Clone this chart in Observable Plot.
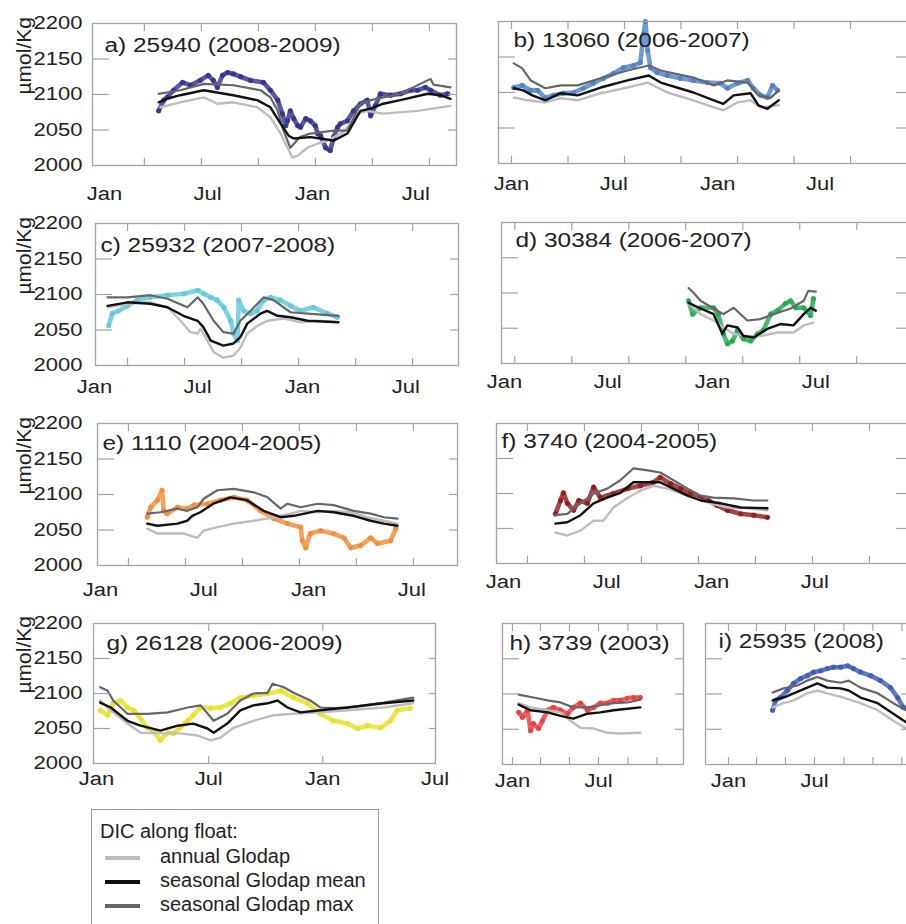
<!DOCTYPE html>
<html><head><meta charset="utf-8">
<script src="https://cdn.jsdelivr.net/npm/d3@7"></script>
<script src="https://cdn.jsdelivr.net/npm/@observablehq/plot@0.6"></script>
<style>
body{margin:0;background:#fff;}
#fig{position:relative;width:906px;height:924px;overflow:hidden;background:#fff;font-family:"Liberation Sans",Arial,sans-serif;color:#222;}
.panel{position:absolute;}
.panel svg{max-width:none;}
#legend{position:absolute;left:91px;top:809px;width:288px;height:140px;border:1.5px solid #9a9a9a;box-sizing:border-box;}
.lg{position:absolute;font-size:20px;line-height:20px;white-space:nowrap;color:#222;}
.sw{position:absolute;left:105px;width:35px;height:3.5px;}
</style></head><body><div id="fig"></div>
<script>
// ---------- data: [day since 1 Jan of first year, DIC µmol/kg] ----------
const a_float=[[95,2077],[104,2092],[110,2096],[121,2106],[137,2117],[151,2113],[168,2120],[182,2127],[191,2120],[198,2110],[207,2127],[216,2131],[226,2129],[239,2125],[256,2120],[279,2117],[291,2106],[304,2092],[312,2073],[318,2056],[321,2063],[326,2077],[332,2066],[339,2056],[344,2054],[353,2066],[361,2063],[370,2056],[374,2045],[379,2042],[388,2025],[396,2021],[402,2040],[409,2054],[414,2059],[426,2063],[437,2077],[449,2087],[461,2092],[467,2070],[475,2084],[484,2101],[502,2099],[519,2101],[537,2106],[549,2106],[563,2110],[572,2106],[589,2099],[602,2101]];
const a_annual=[[98,2082],[133,2089],[174,2096],[198,2087],[226,2089],[268,2082],[291,2068],[309,2045],[321,2025],[330,2011],[339,2014],[356,2025],[374,2031],[391,2035],[419,2047],[444,2073],[461,2077],[489,2073],[549,2077],[607,2084]];
const a_mean=[[95,2089],[110,2094],[133,2099],[174,2106],[226,2099],[268,2092],[291,2082],[309,2059],[323,2042],[332,2038],[361,2040],[379,2038],[402,2035],[426,2045],[449,2077],[467,2080],[489,2087],[519,2092],[567,2101],[589,2099],[607,2094]];
const a_max=[[95,2101],[133,2106],[174,2115],[226,2113],[274,2106],[291,2096],[304,2077],[314,2049],[326,2025],[343,2040],[361,2045],[402,2049],[426,2049],[449,2087],[467,2092],[519,2101],[572,2122],[577,2114],[607,2110]];

const b_float=[[4,2107],[19,2110],[34,2103],[46,2103],[60,2092],[74,2096],[92,2099],[110,2100],[127,2106],[145,2113],[163,2120],[181,2127],[198,2135],[216,2138],[228,2142],[234,2183],[237,2200],[241,2159],[246,2135],[258,2128],[276,2124],[299,2120],[322,2117],[347,2114],[370,2113],[382,2106],[400,2113],[418,2117],[428,2106],[441,2096],[453,2093],[462,2110],[471,2103]];
const b_annual=[[4,2093],[28,2089],[60,2086],[87,2092],[117,2089],[158,2099],[205,2107],[241,2114],[276,2100],[322,2089],[358,2079],[375,2075],[400,2086],[423,2089],[441,2079],[473,2082]];
const b_mean=[[4,2106],[21,2103],[37,2096],[60,2089],[87,2099],[117,2096],[158,2107],[205,2117],[243,2124],[264,2114],[322,2100],[358,2089],[375,2084],[393,2096],[423,2099],[437,2082],[453,2077],[473,2089]];
const b_max=[[4,2141],[19,2134],[34,2117],[60,2106],[87,2110],[117,2110],[158,2120],[205,2131],[243,2138],[264,2131],[322,2121],[358,2110],[382,2117],[418,2114],[437,2096],[458,2092],[473,2103]];

const c_float=[[25,2056],[31,2073],[42,2077],[58,2084],[75,2092],[98,2096],[128,2099],[157,2101],[181,2106],[192,2101],[204,2096],[215,2092],[227,2082],[239,2063],[244,2045],[251,2035],[253,2092],[262,2077],[274,2073],[285,2077],[297,2092],[309,2096],[326,2092],[344,2084],[361,2077],[384,2082],[409,2073],[426,2068]];
const c_annual=[[23,2082],[58,2087],[98,2089],[128,2082],[151,2063],[168,2047],[181,2045],[186,2052],[198,2035],[209,2019],[226,2011],[244,2014],[256,2025],[268,2045],[286,2056],[303,2063],[332,2066],[361,2061],[391,2063],[428,2061]];
const c_mean=[[23,2084],[58,2089],[98,2087],[128,2082],[156,2070],[181,2063],[191,2054],[204,2035],[226,2028],[244,2031],[256,2040],[268,2059],[291,2073],[303,2077],[321,2070],[344,2068],[374,2063],[428,2061]];
const c_max=[[23,2096],[58,2096],[98,2099],[128,2094],[163,2082],[181,2096],[191,2087],[209,2063],[226,2047],[244,2045],[256,2063],[274,2077],[297,2096],[314,2092],[344,2075],[374,2073],[428,2070]];

const d_float=[[323,2089],[330,2070],[344,2079],[367,2079],[375,2070],[384,2042],[391,2028],[400,2032],[409,2047],[419,2035],[432,2032],[444,2042],[454,2047],[467,2070],[479,2075],[493,2085],[502,2089],[511,2079],[525,2079],[537,2068],[542,2092]];
const d_annual=[[323,2085],[344,2070],[367,2061],[384,2051],[402,2042],[426,2039],[449,2039],[479,2044],[507,2044],[525,2054],[542,2058]];
const d_mean=[[323,2086],[344,2078],[367,2070],[382,2042],[391,2054],[409,2051],[419,2039],[437,2037],[461,2049],[484,2056],[507,2054],[525,2070],[537,2079],[546,2075]];
const d_max=[[323,2107],[332,2100],[344,2089],[367,2078],[384,2070],[402,2079],[426,2061],[449,2063],[472,2070],[502,2078],[525,2089],[533,2103],[546,2102]];

const e_float=[[82,2068],[88,2082],[100,2092],[108,2106],[111,2077],[117,2073],[135,2082],[152,2080],[164,2085],[188,2087],[211,2092],[234,2096],[257,2092],[281,2077],[304,2066],[328,2059],[351,2054],[354,2035],[360,2025],[368,2045],[386,2049],[409,2045],[427,2039],[439,2025],[456,2028],[474,2039],[486,2031],[509,2035],[518,2052]];
const e_annual=[[82,2052],[100,2045],[146,2045],[170,2039],[181,2049],[205,2054],[234,2059],[269,2063],[304,2068],[333,2073],[351,2077],[381,2075],[409,2077],[439,2075],[468,2068],[497,2063],[521,2059]];
const e_mean=[[82,2059],[100,2056],[135,2059],[152,2063],[161,2070],[175,2075],[198,2087],[228,2096],[257,2092],[286,2077],[316,2068],[339,2070],[381,2077],[409,2075],[444,2070],[474,2063],[497,2059],[521,2056]];
const e_max=[[82,2073],[105,2075],[135,2080],[152,2077],[170,2082],[181,2094],[205,2106],[234,2108],[269,2103],[293,2096],[316,2080],[328,2087],[351,2082],[381,2087],[409,2085],[444,2077],[474,2073],[497,2068],[521,2066]];

const f_float=[[91,2071],[100,2090],[105,2101],[112,2086],[123,2076],[132,2090],[147,2086],[158,2109],[170,2094],[193,2100],[218,2107],[240,2111],[263,2116],[275,2123],[293,2114],[311,2107],[328,2100],[346,2093],[360,2090],[375,2083],[393,2076],[416,2071],[439,2069],[463,2066]];
const f_annual=[[91,2044],[112,2040],[135,2047],[158,2061],[175,2061],[193,2080],[218,2094],[240,2104],[263,2111],[288,2107],[311,2100],[333,2094],[363,2086],[393,2080],[428,2079],[463,2076]];
const f_mean=[[91,2057],[112,2059],[135,2069],[158,2086],[182,2094],[205,2101],[228,2116],[253,2116],[275,2116],[298,2107],[323,2097],[346,2090],[381,2086],[416,2080],[463,2079]];
const f_max=[[91,2069],[112,2071],[135,2086],[158,2100],[182,2107],[205,2119],[228,2136],[253,2133],[275,2130],[298,2119],[323,2107],[346,2097],[368,2094],[404,2093],[439,2090],[463,2090]];

const g_float=[[6,2076],[18,2069],[27,2086],[39,2090],[50,2080],[60,2076],[71,2064],[82,2051],[92,2047],[103,2033],[115,2044],[124,2043],[135,2051],[147,2061],[156,2069],[168,2080],[184,2079],[200,2080],[216,2086],[232,2094],[253,2097],[276,2100],[297,2104],[318,2094],[340,2086],[361,2071],[382,2061],[405,2057],[421,2050],[437,2054],[458,2051],[474,2061],[485,2076],[506,2079]];
const g_annual=[[6,2090],[23,2076],[50,2057],[71,2044],[103,2043],[135,2043],[163,2040],[184,2033],[200,2037],[221,2051],[253,2061],[286,2069],[318,2071],[361,2073],[405,2076],[463,2080],[511,2086]];
const g_mean=[[6,2087],[23,2080],[50,2061],[71,2054],[103,2047],[131,2054],[156,2057],[179,2050],[189,2044],[211,2057],[232,2076],[253,2083],[276,2086],[292,2090],[308,2080],[329,2073],[361,2076],[405,2080],[463,2086],[511,2090]];
const g_max=[[6,2109],[18,2104],[27,2090],[50,2071],[82,2071],[115,2073],[147,2080],[168,2083],[189,2061],[211,2071],[232,2090],[253,2100],[276,2101],[284,2114],[302,2109],[318,2101],[345,2090],[361,2080],[382,2079],[405,2080],[463,2087],[511,2094]];

const h_float=[[13,2074],[21,2067],[32,2077],[38,2048],[44,2058],[55,2051],[63,2062],[74,2077],[86,2081],[101,2077],[116,2072],[128,2081],[143,2087],[158,2077],[171,2081],[185,2087],[200,2087],[213,2091],[227,2091],[242,2094],[255,2095],[269,2095]];
const h_annual=[[13,2087],[38,2081],[74,2077],[101,2074],[122,2062],[143,2052],[171,2051],[200,2045],[227,2044],[269,2045]];
const h_mean=[[13,2085],[38,2077],[74,2074],[101,2069],[128,2065],[158,2072],[185,2074],[213,2077],[242,2079],[269,2081]];
const h_max=[[13,2099],[44,2095],[74,2091],[101,2088],[128,2081],[158,2081],[185,2084],[213,2087],[242,2088],[269,2092]];

const i_float=[[93,2077],[99,2091],[109,2095],[124,2105],[137,2115],[152,2122],[166,2126],[179,2131],[194,2133],[208,2136],[221,2138],[236,2138],[251,2140],[263,2136],[278,2131],[299,2126],[320,2119],[341,2109],[356,2095],[368,2081],[380,2077]];
const i_annual=[[93,2081],[116,2087],[137,2091],[166,2101],[187,2105],[208,2101],[242,2095],[278,2087],[314,2077],[347,2062],[374,2051],[387,2049]];
const i_mean=[[93,2091],[116,2095],[137,2101],[166,2109],[187,2115],[208,2109],[236,2108],[253,2105],[278,2095],[314,2087],[347,2072],[374,2060],[387,2056]];
const i_max=[[93,2102],[116,2108],[145,2112],[166,2119],[187,2124],[208,2119],[236,2116],[253,2119],[278,2109],[314,2101],[347,2087],[374,2077],[387,2073]];

// tick values
const yLabelTicks=[2000,2050,2100,2150,2200];
const yMinorTicks=[2050,2100,2150];
const monthDays=[0,181,365,546];
const monthNames=["Jan","Jul","Jan","Jul"];
const ticks100a=[70,170,270,370,470,570];
const ticks100b=[0,100,200,300,400,500,600];
const ticks100c=[58,158,258,358,458,558];
const ticks100d=[18,118,218,318,418,518,618];
const ticks100e=[49,149,249,349,449,549];
const ticks100f=[42,142,242,342,442,542,642];
const ticksG=[181,365];
const ticks2m=[0,59,120,181,243,304];
const ticks2mI=[0,59,120,181,243,304,365];
const titles=["a) 25940 (2008-2009)","b) 13060 (2006-2007)","c) 25932 (2007-2008)","d) 30384 (2006-2007)","e) 1110 (2004-2005)","f) 3740 (2004-2005)","g) 26128 (2006-2009)","h) 3739 (2003)","i) 25935 (2008)"];
const yLabel="µmol/Kg";
const legendTitle="DIC along float:";
const legendNames=["annual Glodap","seasonal Glodap mean","seasonal Glodap max"];

// ---------- layout ----------
const FRAME="#a3a3a3";
const C_ANN="#bdbdbd", C_MEAN="#111111", C_MAX="#666666";
const panels=[
 {t:0,color:"#2e2e8c",L:92,T:23,R:456,B:165,dom:[-21,617.5],ticks:ticks100a,lab:4,lp:22,tdx:12,tdy:14,left:true,rt:9,d:[a_float,a_annual,a_mean,a_max]},
 {t:1,color:"#4a80c8",L:498,T:21,R:912,B:163,dom:[-23,709.7],ticks:ticks100b,lab:4,lp:14,tdx:15,tdy:11,left:false,rt:17,d:[b_float,b_annual,b_mean,b_max]},
 {t:2,color:"#5ec6dc",L:95,T:223,R:458,B:365,dom:[1.8,638.6],ticks:ticks100c,lab:4,lp:15,tdx:5,tdy:14,left:true,rt:9,d:[c_float,c_annual,c_mean,c_max]},
 {t:3,color:"#1fa84c",L:501,T:222,R:912,B:363,dom:[-5.3,715.8],ticks:ticks100d,lab:4,lp:12,tdx:14,tdy:10,left:false,rt:17,d:[d_float,d_annual,d_mean,d_max]},
 {t:4,color:"#f28a32",L:97,T:423,R:457,B:565,dom:[-5.3,626.3],ticks:ticks100e,lab:4,lp:18,tdx:5,tdy:12,left:true,rt:9,d:[e_float,e_annual,e_mean,e_max]},
 {t:5,color:"#8e1616",L:496,T:423,R:912,B:563,dom:[-12.3,717.5],ticks:ticks100f,lab:4,lp:12,tdx:5,tdy:10,left:false,rt:17,d:[f_float,f_annual,f_mean,f_max]},
 {t:6,color:"#e6e020",L:93,T:623,R:435,B:763,dom:[-4.8,546.8],ticks:ticksG,lab:4,lp:9,tdx:13,tdy:12,left:true,rt:7,d:[g_float,g_annual,g_mean,g_max]},
 {t:7,color:"#e83a3a",L:502,T:623,R:683,B:764,dom:[-21,360],ticks:ticks2m,lab:2,lp:10,tdx:7,tdy:12,left:false,rt:9,d:[h_float,h_annual,h_mean,h_max]},
 {t:8,color:"#3a58b4",L:705,T:623,R:912,B:764,dom:[-48.4,387.4],ticks:ticks2mI,lab:2,lp:10,tdx:13,tdy:10,left:false,rt:12,d:[i_float,i_annual,i_mean,i_max]}
];

const fig=document.getElementById("fig");
const X=d=>d[0], Y=d=>d[1];

function stretch(svg,f){
  svg.querySelectorAll('g[aria-label="x-axis tick label"] text, g[aria-label="y-axis tick label"] text, g[aria-label="text"] text').forEach(t=>{
    const tr=t.getAttribute("transform")||"";
    if(tr.includes("rotate")) return;
    const L=t.getComputedTextLength();
    if(L>0){t.setAttribute("textLength",(L*f).toFixed(1));t.setAttribute("lengthAdjust","spacingAndGlyphs");}
  });
}

for(const p of panels){
  const mL=p.left?p.L:30, mR=30, mT=10, mB=40;
  const W=(p.R-p.L)+mL+mR, H=(p.B-p.T)+mT+mB;
  const labDays=monthDays.slice(0,p.lab);
  const labMap=new Map(labDays.map((d,i)=>[d,monthNames[i]]));
  const [fl,an,me,mx]=p.d;
  const marks=[
    Plot.line(fl,{x:X,y:Y,stroke:p.color,strokeWidth:4.6,strokeOpacity:0.8}),
    Plot.dot(fl,{x:X,y:Y,r:2.6,fill:p.color,fillOpacity:0.8}),
    Plot.line(an,{x:X,y:Y,stroke:C_ANN,strokeWidth:2.4}),
    Plot.line(mx,{x:X,y:Y,stroke:C_MAX,strokeWidth:2.2}),
    Plot.line(me,{x:X,y:Y,stroke:C_MEAN,strokeWidth:2.4}),
    Plot.frame({stroke:FRAME,strokeWidth:1.3}),
    Plot.axisX(p.ticks,{anchor:"bottom",tickSize:7,dy:-7,fill:"none",stroke:FRAME,strokeWidth:1.2,label:null}),
    Plot.axisX(p.ticks,{anchor:"top",tickSize:7,dy:7,fill:"none",stroke:FRAME,strokeWidth:1.2,label:null}),
    Plot.axisY(yMinorTicks,{anchor:"left",tickSize:17,dx:17,fill:"none",stroke:FRAME,strokeWidth:1.2,label:null}),
    Plot.axisY(yMinorTicks,{anchor:"right",tickSize:p.rt,dx:-p.rt,fill:"none",stroke:FRAME,strokeWidth:1.2,label:null}),
    Plot.axisX(labDays,{anchor:"bottom",tickSize:0,tickPadding:p.lp,tickFormat:d=>labMap.get(d),label:null,fontSize:18,fill:"#222"}),
    Plot.text([titles[p.t]],{text:d=>d,frameAnchor:"top-left",dx:p.tdx,dy:p.tdy,textAnchor:"start",lineAnchor:"top",fontSize:20,fill:"#222"})
  ];
  if(p.left){
    marks.push(Plot.axisY(yLabelTicks,{anchor:"left",tickSize:0,tickPadding:p.L-82,tickFormat:d=>String(d),label:null,fontSize:18,fill:"#222"}));
    marks.push(Plot.text([yLabel],{text:d=>d,frameAnchor:"left",rotate:-90,dx:24-p.L,fontSize:21,fill:"#222"}));
  }
  const svg=Plot.plot({
    width:W,height:H,marginLeft:mL,marginRight:mR,marginTop:mT,marginBottom:mB,
    x:{domain:p.dom,axis:null},
    y:{domain:[2000,2200],axis:null},
    style:{fontFamily:'"Liberation Sans",Arial,sans-serif',background:"transparent",color:"#222"},
    marks
  });
  const div=document.createElement("div");
  div.className="panel";
  div.style.left=(p.L-mL)+"px";
  div.style.top=(p.T-mT)+"px";
  div.style.width=W+"px";
  div.appendChild(svg);
  fig.appendChild(div);
  stretch(svg,1.22);
}

// ---------- legend ----------
const lg=document.createElement("div");lg.id="legend";fig.appendChild(lg);
function addText(txt,left,top){const e=document.createElement("div");e.className="lg";e.style.left=left+"px";e.style.top=top+"px";e.textContent=txt;fig.appendChild(e);}
addText(legendTitle,100,821);
const swColors=[C_ANN,C_MEAN,C_MAX];
legendNames.forEach((n,i)=>{
  addText(n,160,846+i*24);
  const s=document.createElement("div");s.className="sw";s.style.top=(856+i*24)+"px";s.style.background=swColors[i];fig.appendChild(s);
});
</script></body></html>
